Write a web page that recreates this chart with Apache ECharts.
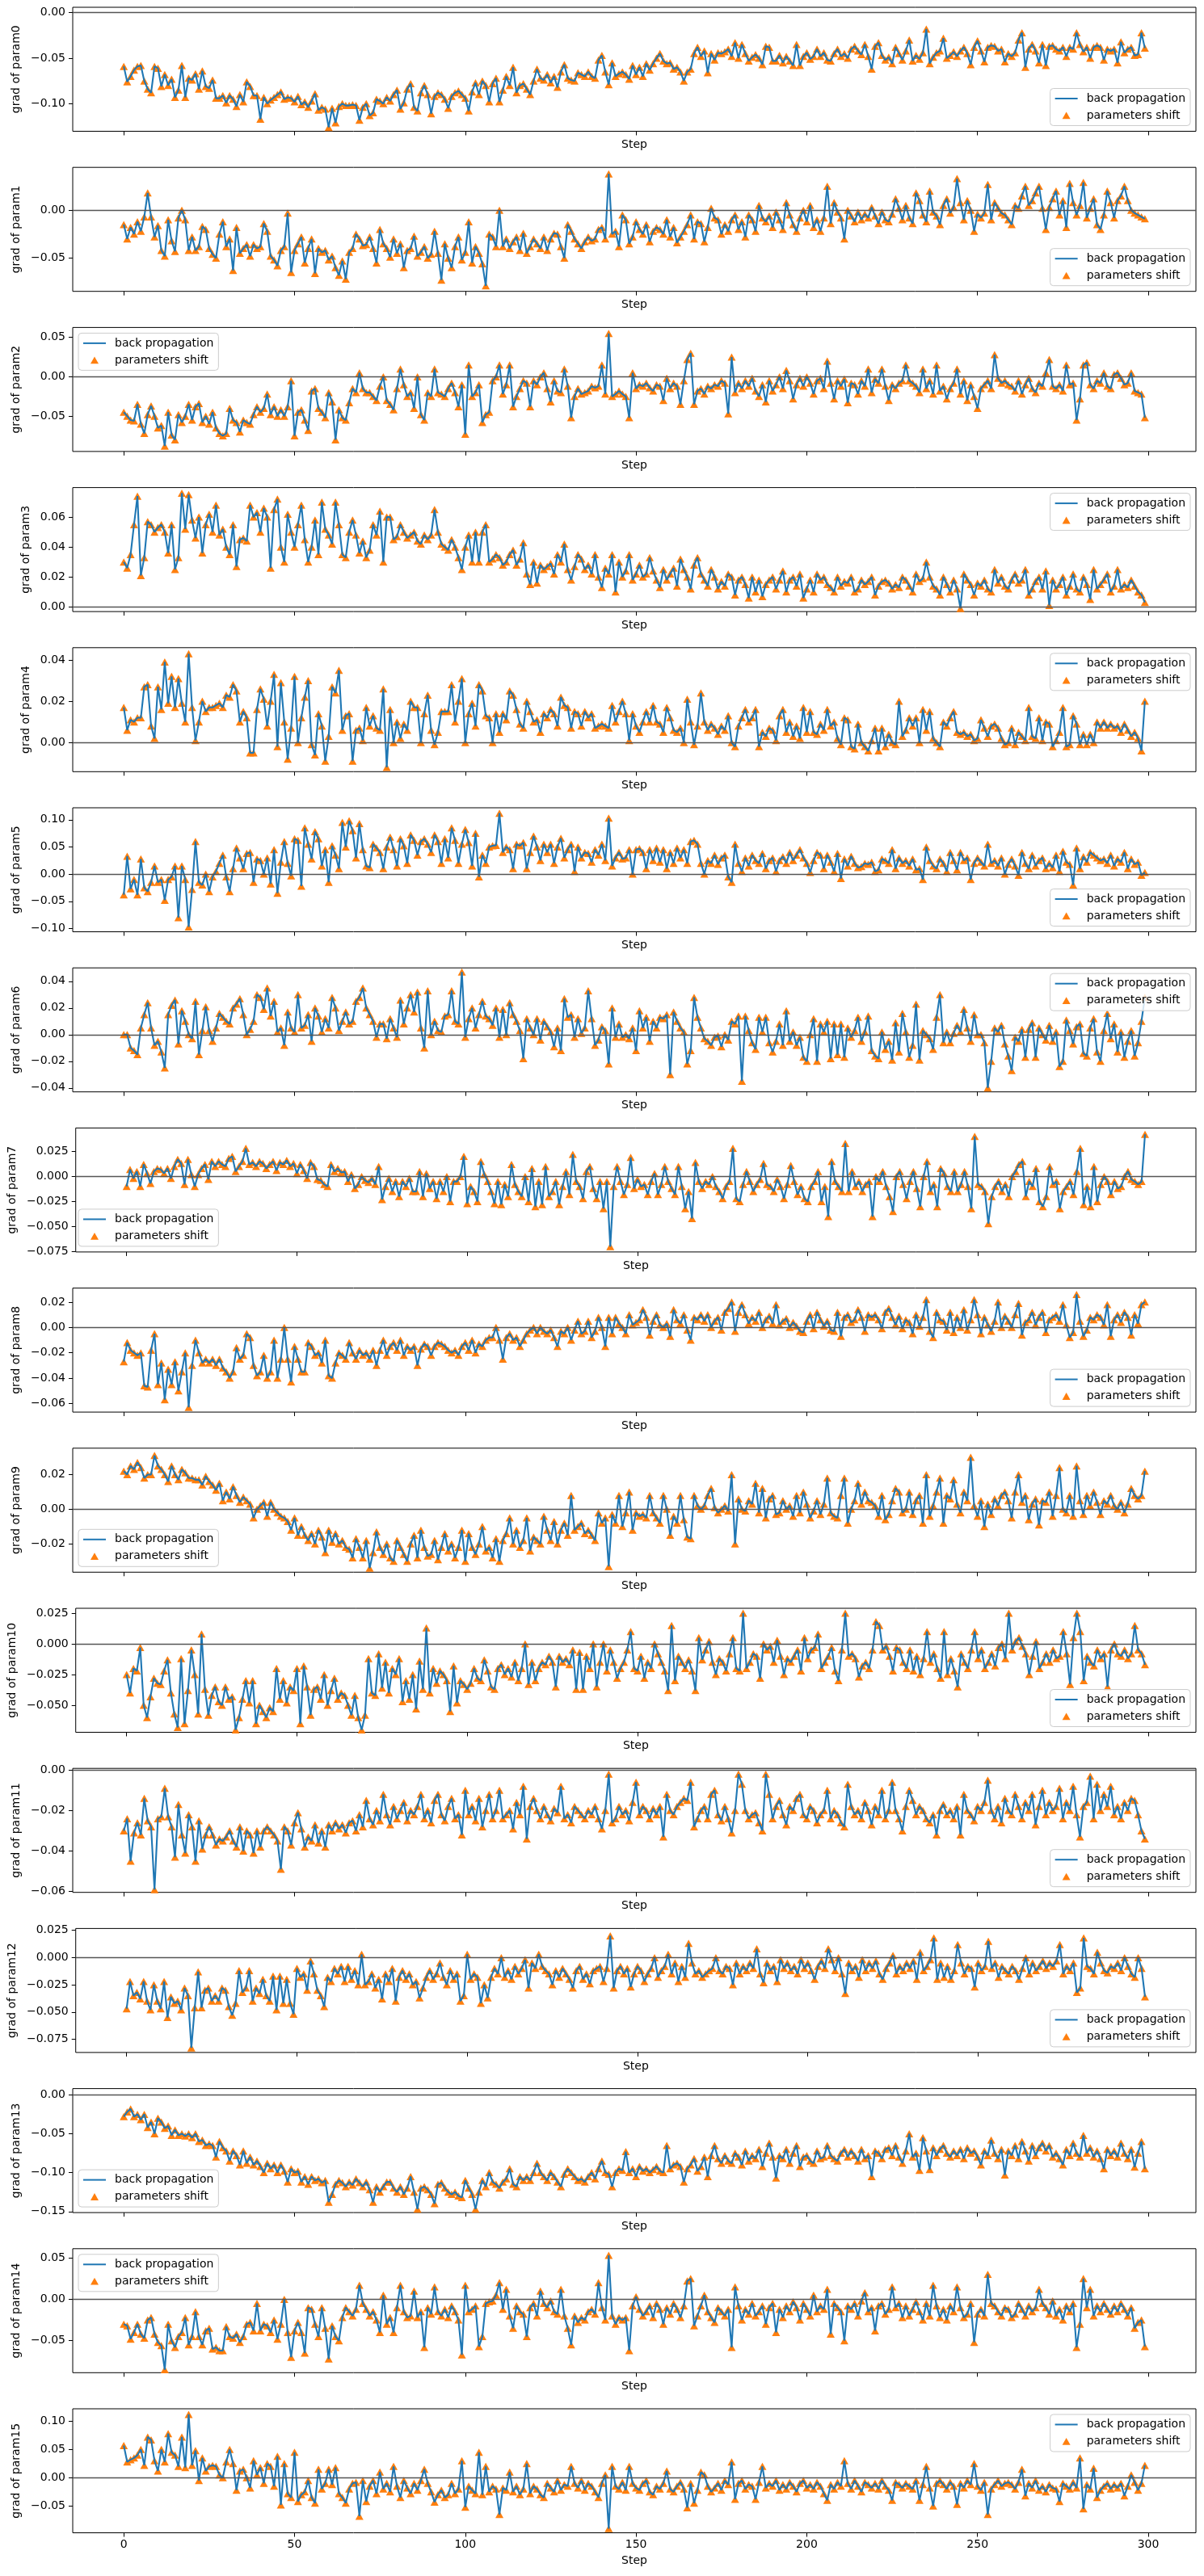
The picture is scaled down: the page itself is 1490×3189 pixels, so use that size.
<!DOCTYPE html>
<html><head><meta charset="utf-8">
<script src="https://cdn.jsdelivr.net/npm/echarts@6/dist/echarts.min.js"></script>
<style>html,body{margin:0;padding:0;background:#fff}#c{width:1490px;height:3189px}</style>
</head><body><div id="c"></div>
<script>
// Gradient of each parameter per step (steps 0..299), values in units of 1e-3.
const grad0 = [
-59,-76,-70,-63,-59,-58,-75,-84,-88,-59,-61,-81,-68,-80,-73,-93,-85,-58,-93,-72,
-74,-67,-84,-64,-81,-83,-74,-94,-94,-91,-99,-91,-95,-103,-90,-98,-76,-81,-91,-91,
-117,-93,-100,-96,-93,-90,-87,-95,-93,-94,-98,-92,-101,-98,-104,-97,-89,-107,-104,-106,
-126,-105,-121,-103,-100,-102,-102,-101,-102,-118,-104,-100,-113,-110,-95,-97,-100,-93,-97,-90,
-85,-106,-99,-84,-78,-104,-108,-88,-80,-90,-111,-92,-88,-90,-95,-105,-92,-88,-86,-90,
-94,-108,-87,-77,-90,-75,-80,-98,-78,-72,-98,-85,-70,-80,-60,-88,-80,-78,-84,-90,
-75,-62,-72,-74,-68,-77,-70,-82,-65,-57,-72,-74,-75,-66,-68,-70,-65,-70,-72,-52,
-47,-65,-79,-55,-70,-67,-65,-68,-73,-58,-68,-60,-70,-56,-63,-56,-50,-45,-53,-56,
-55,-62,-60,-65,-75,-65,-62,-45,-38,-48,-42,-66,-45,-52,-44,-45,-43,-40,-48,-33,
-50,-35,-45,-53,-49,-46,-50,-57,-37,-38,-53,-53,-47,-55,-48,-53,-58,-35,-58,-48,
-44,-51,-48,-40,-48,-44,-52,-53,-45,-40,-48,-45,-50,-40,-37,-42,-46,-35,-48,-62,
-37,-33,-47,-52,-49,-56,-38,-45,-52,-42,-30,-53,-47,-51,-44,-18,-56,-49,-44,-42,
-28,-50,-47,-43,-48,-42,-38,-45,-57,-38,-31,-42,-54,-38,-36,-37,-42,-40,-54,-45,
-48,-44,-30,-22,-60,-40,-35,-42,-55,-35,-58,-37,-36,-40,-42,-38,-48,-38,-40,-22,
-35,-43,-38,-50,-38,-36,-38,-52,-40,-42,-40,-55,-32,-44,-40,-38,-47,-46,-22,-39];
const grad1 = [
-15,-30,-18,-25,-12,-22,-7,18,-7,-28,-16,-42,-48,-10,-32,-43,-8,0,-10,-42,
-28,-42,-38,-17,-20,-40,-46,-50,-25,-12,-38,-30,-63,-18,-45,-40,-36,-48,-36,-40,
-38,-14,-22,-48,-52,-58,-42,-38,-3,-65,-42,-35,-28,-55,-40,-30,-66,-40,-44,-42,
-52,-48,-60,-68,-53,-72,-44,-40,-25,-30,-37,-36,-28,-40,-55,-20,-35,-40,-49,-30,
-45,-35,-60,-42,-40,-27,-48,-44,-38,-50,-46,-22,-45,-73,-35,-50,-60,-38,-28,-52,
-44,-12,-55,-38,-45,-56,-79,-25,-28,-38,0,-38,-30,-40,-33,-28,-42,-24,-45,-38,
-30,-35,-40,-28,-42,-30,-24,-25,-38,-50,-15,-22,-30,-35,-40,-33,-28,-32,-30,-20,
-18,-30,38,-25,-22,-38,-5,-10,-35,-28,-12,-20,-25,-15,-33,-22,-18,-20,-25,-10,
-28,-18,-34,-28,-22,-15,-5,-30,-12,-14,-33,-18,2,-8,-10,-25,-15,-22,-10,-5,
-20,-12,-28,-5,-10,-22,5,-8,-12,-6,-18,-2,-10,-20,8,-5,-15,-22,-8,0,
-12,5,-18,-10,-22,-8,25,-14,8,-2,-8,-30,0,-6,-12,-2,-10,-4,-8,3,
-6,-14,-2,-10,-12,-4,12,2,-10,5,-8,-14,18,10,-5,-12,20,-2,-6,-15,
5,12,-3,3,33,8,-10,10,0,-22,-4,-8,-3,27,-10,8,2,-3,-5,-10,
-15,5,2,15,25,5,10,18,25,2,-20,3,12,20,-5,10,-18,28,8,-5,
5,29,-8,2,12,-15,-20,-5,20,8,-8,10,15,25,10,0,-3,-5,-7,-9];
const grad2 = [
-45,-50,-55,-56,-35,-60,-72,-48,-37,-50,-65,-62,-88,-45,-74,-80,-48,-58,-50,-35,
-55,-38,-34,-58,-50,-60,-45,-65,-72,-75,-72,-40,-55,-58,-70,-55,-58,-60,-48,-38,
-45,-40,-22,-48,-38,-50,-42,-50,-38,-5,-75,-45,-42,-55,-68,-18,-15,-40,-45,-52,
-20,-32,-80,-42,-52,-55,-33,-15,-20,5,-15,-20,-20,-25,-30,-12,0,-30,-35,-42,
-15,10,-10,-25,-20,-40,0,-48,-55,-20,-25,10,-20,-22,-25,-15,-8,-20,-38,-10,
-73,15,-25,-20,-10,-58,-48,-45,-5,0,15,-22,-10,15,-38,-25,-15,-5,-8,-38,
-5,-10,0,5,-15,-32,-5,-18,-20,10,-12,-52,-25,-15,-22,-20,-18,-12,-14,-12,
15,-22,55,-25,-22,-18,-22,-25,-52,5,-15,-10,-12,-8,-14,-18,-10,-12,-30,-2,
-15,-8,-12,-35,-5,22,30,-35,-18,-15,-22,-12,-15,-10,-12,-5,-8,-47,25,-20,
-8,-15,-5,-12,-2,-18,-25,-10,-32,-5,-18,-10,0,-15,8,-5,-28,-10,-2,-12,
0,-8,-22,-5,-2,-15,20,-8,-28,-5,-12,-3,-33,-8,-10,-22,-5,-12,10,-20,
-3,-8,10,-12,-30,-10,-15,-8,-5,15,-5,-8,-12,-20,10,-15,-5,-22,15,-18,
-12,-28,-15,-8,10,-22,-5,-30,-10,-25,-40,-15,-10,-5,-15,28,-2,-8,-5,-10,
-12,-18,-5,-22,-10,-2,-15,-20,-8,-12,5,22,-12,-15,-10,-18,15,-10,-8,-55,
-28,15,18,-10,-15,-5,-8,5,-12,-15,3,5,-2,-10,-8,5,-18,-20,-22,-52];
const grad3 = [
30,26,35,55,74,21,33,57,55,50,53,55,50,36,55,25,33,76,52,75,
58,46,60,36,55,62,50,68,48,52,40,35,55,27,45,46,44,68,60,63,
50,66,60,26,65,72,40,30,62,50,40,55,68,45,30,40,58,35,70,52,
48,42,70,55,35,33,50,58,48,36,44,33,38,55,48,64,30,60,60,45,
47,55,50,46,48,50,44,42,48,45,48,65,50,42,40,38,45,40,33,25,
40,48,30,50,30,50,55,30,32,35,33,28,30,35,38,28,32,43,22,15,
30,16,28,25,27,29,22,35,30,42,25,18,27,35,32,25,28,22,35,20,
13,26,22,35,10,30,20,24,35,18,22,28,20,22,33,24,18,13,25,18,
22,26,14,32,25,20,12,28,33,22,18,14,25,20,12,17,14,22,20,8,
18,20,15,6,20,10,18,7,15,18,20,12,18,24,10,18,20,14,22,6,
12,18,10,22,18,20,15,13,10,20,14,17,16,20,10,12,18,15,17,20,
8,14,17,18,16,12,15,13,20,18,14,10,22,17,19,30,20,14,12,8,
20,15,10,18,12,-1,22,18,15,8,16,14,18,12,10,25,16,20,14,12,
18,22,16,18,25,8,12,17,20,12,24,1,18,12,15,20,8,14,22,12,
10,20,15,5,25,12,15,18,22,10,14,25,12,15,13,18,14,10,8,3];
const grad4 = [
17,6,11,10,12,12,27,28,8,2,27,16,39,19,32,17,31,19,10,43,
17,1,10,20,15,17,17,18,19,17,23,22,28,25,10,15,12,-5,-5,16,
26,21,8,20,33,-2,29,10,-8,7,32,0,12,22,30,-1,-6,14,8,-9,
3,27,24,35,6,13,14,-9,6,7,1,17,8,13,7,6,26,-12,16,0,
10,2,9,6,20,17,17,0,14,23,6,-1,5,15,15,15,28,10,20,31,
0,14,19,8,28,25,13,12,0,14,5,14,11,25,23,16,9,7,20,15,
10,11,5,14,12,16,14,8,22,18,17,7,15,14,8,15,12,14,7,8,
9,8,7,18,10,15,20,14,1,14,8,5,10,15,10,18,10,9,5,17,
12,6,5,7,0,21,10,-1,8,24,10,6,9,7,4,8,6,13,0,-2,
8,12,16,10,12,16,-2,5,3,7,6,1,13,16,5,10,3,8,2,17,
5,15,5,4,9,6,16,8,10,2,-1,12,11,-2,-3,9,0,-2,-4,1,
7,-4,7,-2,4,0,-1,20,3,6,12,8,12,0,16,6,15,2,0,-2,
10,8,12,15,5,4,5,3,4,1,2,11,7,3,8,9,7,2,-1,0,
7,-1,5,3,1,17,3,2,12,1,10,9,-2,1,5,17,-2,-1,13,9,
-1,4,-1,4,0,10,7,10,7,9,7,8,5,9,6,3,5,2,-4,20];
const grad5 = [
-38,33,-27,-10,-38,28,-25,-32,-15,15,-15,-10,-48,-10,-5,15,-80,15,-10,-97,
-28,60,-15,-20,0,-32,-5,5,20,35,-5,-32,10,48,30,10,38,40,-15,28,
25,0,30,-18,45,-35,22,60,20,-3,65,62,-22,85,55,28,78,65,15,45,
-15,52,35,10,95,50,98,80,30,93,45,15,12,55,48,40,10,50,68,45,
15,65,52,20,72,62,35,60,65,55,40,72,60,20,65,30,85,62,20,55,
82,58,15,75,-5,35,20,50,52,53,112,40,50,45,10,55,52,58,10,40,
70,50,25,55,40,55,20,50,66,30,45,55,5,50,30,40,38,22,45,35,
55,25,103,15,30,40,28,30,45,0,45,47,40,10,45,25,48,22,45,10,
40,20,48,30,45,20,60,62,55,20,0,25,20,35,18,30,35,-5,-15,55,
20,5,30,15,35,25,20,38,10,25,30,5,25,32,20,40,25,35,45,30,
20,3,25,40,35,10,35,22,5,38,-8,28,15,33,20,12,14,20,18,22,
5,8,28,25,20,45,10,30,20,25,15,28,8,10,-10,50,25,15,10,28,
20,5,40,25,8,40,25,30,-10,20,30,22,15,55,20,25,15,30,0,18,
28,15,-2,40,20,10,35,15,25,30,10,20,12,35,5,42,22,18,-20,48,
10,32,22,40,35,30,25,28,20,35,15,28,22,40,10,28,18,22,-2,3];
const grad6 = [
0,0,-10,-12,-15,5,15,24,5,-8,-5,-13,-25,15,22,26,-7,18,10,0,
-3,25,-15,3,21,3,-5,5,16,13,10,8,20,23,27,15,0,4,10,30,
28,19,35,14,25,2,5,-8,17,5,2,30,5,7,15,-5,20,14,2,12,
5,28,20,3,10,17,8,10,25,28,35,20,15,10,-2,8,8,-3,12,5,
-2,26,8,20,30,17,32,5,-10,33,0,10,3,2,14,15,33,10,8,47,
-2,12,20,5,15,25,14,12,7,20,-2,19,0,24,15,10,3,-18,12,5,
0,12,-4,10,6,2,-9,5,-12,27,13,15,-2,12,1,5,33,12,-8,-4,
6,3,-22,20,-2,8,-2,0,-3,5,-12,18,5,13,-5,10,5,13,12,15,
-30,17,10,5,2,-22,-12,28,13,5,-3,-5,-8,-2,-1,-9,0,-4,10,8,
14,-35,14,3,-6,-11,13,2,13,-6,-13,-5,8,-8,18,-5,2,-8,-2,-17,
-20,0,12,-20,8,2,10,-18,8,-15,8,-17,5,-2,3,13,-5,2,14,-12,
-16,-18,2,-11,-5,-19,9,-13,16,2,-17,-8,23,-19,3,0,-3,-11,13,30,
-6,2,-6,1,7,2,19,5,-5,15,0,0,-6,-40,-20,5,2,7,-7,-16,
-27,-2,-5,4,-17,4,9,-17,5,0,-4,7,-5,2,-24,-20,11,3,-7,6,
8,-14,-16,5,12,-13,-20,3,16,-3,8,-13,2,-17,-5,3,-16,-6,10,28];
const grad7 = [
-10,7,-2,5,-10,12,3,-7,5,8,7,3,8,-2,10,17,13,-8,17,2,
-10,2,8,12,-3,15,10,15,12,10,18,20,5,10,15,28,12,14,10,15,
13,8,12,15,6,14,12,16,10,13,3,12,6,-2,14,10,-3,-4,-8,-10,
12,5,8,4,5,-5,2,-12,-8,0,-4,-6,-2,-8,10,-23,-10,-2,-15,-5,
-20,-5,-10,-2,-15,-15,5,-20,3,-12,-5,-22,-5,-15,0,-25,-5,-5,0,20,
-27,-10,-15,-25,15,2,-5,-15,-27,-5,-28,-8,-20,12,-8,-15,-20,0,-25,8,
-30,-5,-28,10,-20,-15,-5,-28,-10,5,-18,22,-5,-10,-22,5,10,-12,-22,-5,
-32,-5,-70,-10,10,-5,-18,-8,19,-12,-3,-10,-8,-18,-5,3,-18,-8,10,-5,
-12,-18,10,-10,-32,-15,-42,14,-5,-12,-5,-8,0,-10,-15,-22,-10,-5,28,-22,
-25,-8,5,-5,-15,-8,-3,13,-8,-10,-15,-3,-10,-22,-8,11,-5,-18,-10,-22,
-25,-10,-5,5,-25,-10,-40,15,-5,-10,-15,33,-15,5,-10,-5,-15,-8,-5,-40,
0,-5,5,-10,-20,-35,0,5,-8,-22,-5,5,-12,-30,0,15,-15,-8,-30,8,
3,-10,-15,5,-15,-8,5,-10,-32,40,-8,-10,-15,-47,-20,-10,-5,-15,-8,-20,
0,5,12,15,-20,-5,-10,8,-25,-30,-20,10,-8,-5,-32,-15,-10,-5,-18,5,
28,-28,-10,-30,10,-25,-8,0,-5,-18,-5,-12,-10,0,5,-3,-5,-8,-5,42];
const grad8 = [
-27,-12,-18,-20,-22,-20,-46,-47,-18,-5,-45,-28,-57,-33,-45,-27,-50,-35,-20,-63,
-30,-10,-20,-28,-25,-28,-25,-30,-25,-32,-35,-40,-35,-16,-25,-22,-5,-8,-30,-38,
-35,-22,-40,-35,-10,-40,-25,0,-25,-43,-15,-25,-35,-35,-12,-15,-22,-20,-28,-10,
-38,-40,-28,-20,-22,-25,-12,-20,-25,-18,-22,-20,-25,-18,-30,-18,-10,-22,-15,-12,
-18,-10,-22,-15,-18,-15,-30,-17,-13,-15,-22,-15,-12,-13,-15,-18,-20,-18,-22,-15,
-12,-18,-10,-20,-13,-15,-10,-8,-8,0,-10,-25,-8,-5,-10,-8,-15,-10,-5,-2,
0,-5,0,-3,-5,-2,-8,-15,-3,-5,0,-10,-2,5,-5,-3,5,-8,-3,8,
0,-15,8,-5,8,3,0,-5,10,2,4,6,14,8,-6,5,10,2,0,3,
-7,14,6,3,10,-2,-10,8,6,10,5,10,0,5,8,-2,12,15,20,-3,
12,18,10,3,8,5,12,0,6,9,3,18,2,5,7,0,4,1,-3,-4,
5,10,-1,12,6,1,5,-2,-3,12,-7,8,10,4,6,14,8,-3,10,8,
10,6,-1,12,15,8,2,9,-1,6,4,-5,10,1,8,22,-3,-8,12,6,
5,-2,12,-4,8,0,14,-2,6,22,10,-5,8,2,-3,5,20,0,9,5,
0,10,19,-6,4,6,12,2,8,12,-4,6,8,10,5,18,2,-8,-4,26,
5,-7,-2,8,6,10,8,2,18,-7,6,10,4,12,8,-6,10,3,18,20];
const grad9 = [
22,20,25,23,27,24,18,20,20,31,25,23,20,16,25,20,17,23,21,18,
18,17,17,14,19,16,14,11,15,5,10,6,13,8,4,7,5,3,-5,0,
2,4,-4,4,0,-2,-4,-5,-7,-12,-5,-15,-10,-15,-18,-14,-20,-12,-16,-25,
-12,-19,-14,-20,-18,-22,-23,-28,-17,-22,-28,-18,-34,-25,-13,-22,-26,-20,-28,-30,
-18,-22,-26,-30,-20,-15,-28,-12,-22,-27,-26,-18,-29,-22,-14,-24,-20,-28,-22,-12,
-30,-14,-22,-26,-20,-10,-24,-22,-28,-17,-30,-18,-14,-5,-20,-12,-22,-18,-5,-24,
-16,-18,-20,-4,-12,-18,-7,-20,-12,-8,-15,8,-12,-10,-8,-14,-12,-15,-18,-2,
-8,-5,-33,-3,-8,8,-10,-2,10,-12,-2,-4,-3,-5,8,-2,-5,-8,8,0,
-15,-4,-8,8,-6,-16,-17,8,2,0,2,8,12,1,-2,0,2,-1,20,-20,
6,0,-1,5,3,15,-2,12,-5,6,8,-3,-2,5,0,2,-4,8,-2,10,
3,-5,-1,5,-3,3,18,-2,-4,-5,8,18,-8,0,5,15,3,10,5,4,
2,-4,8,-6,-3,5,12,10,-2,0,10,-3,5,8,-8,20,-4,2,10,18,
-8,8,6,17,3,-2,10,5,30,2,-4,5,-10,3,-3,6,2,8,10,5,
-5,10,20,4,8,-6,3,6,-9,5,4,10,-4,8,24,0,-2,8,-4,25,
5,-3,8,2,10,4,-3,5,3,8,2,0,4,-2,3,12,8,6,8,22];
const grad10 = [
-25,-40,-20,-22,-3,-50,-60,-43,-28,-32,-33,-22,-13,-40,-57,-68,-12,-65,-38,-5,
-25,-57,8,-37,-58,-42,-35,-47,-50,-35,-45,-43,-70,-60,-45,-30,-48,-30,-65,-50,
-55,-60,-52,-55,-20,-45,-30,-48,-35,-38,-20,-65,-18,-35,-58,-37,-35,-45,-25,-50,
-38,-28,-45,-40,-42,-50,-58,-42,-60,-70,-58,-12,-40,-42,-8,-36,-15,-40,-20,-25,
-12,-47,-30,-45,-25,-53,-14,-37,13,-40,-20,-32,-22,-25,-30,-55,-18,-48,-30,-33,
-37,-32,-20,-28,-30,-13,-22,-35,-37,-20,-17,-25,-20,-27,-15,-30,-20,0,-33,-15,
-30,-20,-15,-17,-10,-15,-35,-10,-15,-12,-17,-5,-37,-7,-37,-10,-20,0,-35,-15,
0,-22,-5,-15,-28,-20,-15,-5,10,-20,-22,-10,-28,-15,-20,0,-8,-15,-22,-38,
15,-30,-10,-15,-20,-13,-22,-38,5,-13,-5,2,-15,-25,-12,-15,-22,-8,5,-20,
-22,25,-20,-15,-8,-10,-28,0,-5,-2,-15,3,-10,-25,-12,-15,-10,-5,-22,5,
-12,-5,-3,8,-20,-15,-10,-3,-22,-30,-5,25,-10,-8,-12,-27,-18,-15,-20,-5,
18,15,-5,-2,-10,-22,-3,-5,-15,-20,-5,-22,-10,-25,-12,10,-15,-8,-20,-28,
10,-25,-12,-22,-35,-8,-15,-20,-5,10,-12,-5,-20,-15,-8,-18,-3,0,-12,25,
-5,2,5,-2,-8,-25,-10,2,-20,-15,-8,-15,-5,-12,-10,10,-8,-33,5,25,
10,-30,-10,-15,-18,-5,-12,-8,-35,-5,0,-8,-10,-5,-12,-8,15,-5,-8,-17];
const grad11 = [
-30,-24,-45,-31,-26,-32,-14,-25,-28,-59,-24,-23,-9,-23,-28,-43,-17,-32,-41,-22,
-28,-45,-25,-39,-32,-28,-32,-37,-34,-35,-33,-30,-35,-38,-28,-40,-30,-32,-41,-30,
-38,-30,-28,-30,-32,-35,-49,-28,-30,-37,-26,-21,-29,-38,-33,-35,-27,-36,-30,-38,
-27,-30,-26,-29,-27,-31,-26,-25,-30,-22,-28,-15,-24,-27,-20,-25,-12,-22,-27,-18,
-24,-20,-16,-25,-20,-22,-18,-12,-24,-20,-26,-15,-12,-22,-25,-18,-14,-24,-22,-32,
-10,-22,-18,-25,-14,-28,-20,-12,-24,-20,-10,-24,-22,-20,-29,-16,-22,-8,-34,-18,
-14,-20,-24,-18,-22,-25,-19,-21,-8,-24,-22,-26,-18,-20,-22,-24,-20,-22,-18,-24,
-29,-20,-2,-26,-24,-18,-22,-20,-25,-16,-6,-22,-18,-20,-24,-19,-22,-18,-33,-12,
-20,-22,-18,-16,-14,-15,-6,-28,-24,-20,-18,-24,-12,-10,-22,-25,-18,-24,-31,-20,
-2,-7,-20,-24,-22,-21,-26,-30,-2,-12,-24,-18,-15,-22,-27,-18,-20,-14,-12,-22,
-24,-18,-20,-26,-22,-20,-10,-24,-20,-22,-26,-28,-7,-18,-22,-20,-24,-16,-20,-27,
-18,-22,-10,-24,-20,-6,-20,-24,-30,-18,-10,-15,-22,-18,-20,-24,-26,-22,-32,-20,
-17,-22,-20,-24,-18,-32,-12,-20,-22,-25,-18,-20,-16,-5,-20,-24,-18,-26,-14,-20,
-22,-12,-18,-24,-16,-20,-12,-27,-18,-10,-22,-16,-20,-18,-9,-24,-16,-20,-8,-22,
-33,-18,-16,-3,-24,-7,-20,-12,-18,-8,-22,-18,-24,-16,-20,-14,-15,-22,-30,-34];
const grad12 = [
-47,-22,-35,-32,-38,-22,-40,-48,-25,-40,-47,-22,-55,-36,-42,-40,-48,-28,-35,-83,
-46,-13,-46,-30,-28,-40,-35,-40,-28,-30,-45,-53,-42,-12,-32,-28,-12,-40,-28,-33,
-20,-35,-40,-17,-48,-17,-42,-20,-42,-52,-10,-18,-15,-30,-3,-15,-30,-35,-45,-18,
-22,-10,-15,-8,-22,-8,-20,-12,-25,3,-25,-22,-15,-28,-20,-38,-15,-22,-10,-40,
-18,-12,-20,-15,-25,-22,-37,-28,-18,-12,-20,-15,-5,-18,-25,-12,-20,-15,-40,-35,
3,-20,-15,-18,-42,-25,-37,-18,-10,-15,0,-18,-12,-20,-8,-15,-10,-2,-28,-5,
-10,3,-8,-12,-15,-25,-12,-18,-10,-15,-20,-28,-12,-8,-20,-15,-24,-12,-10,-8,
-22,-10,20,-28,-12,-8,-15,-10,-27,-15,-8,-12,-22,-15,-10,0,-18,-12,-8,3,
-15,-5,-22,-8,-18,13,-5,-15,-12,-18,-15,-12,-10,0,-12,-15,-8,-10,-25,-5,
-15,-8,-12,-5,-10,8,-15,-23,-5,-12,-8,-22,-2,-10,-5,-12,-8,-15,-2,-10,
-5,-12,-20,-8,-3,-10,8,-2,-12,0,-15,-33,-5,-12,-8,-18,-2,-12,-5,-10,
-3,-15,-20,-10,-5,2,-15,-8,-12,-5,-10,-3,-20,5,-12,-8,-2,18,-20,-5,
-18,-8,-20,-12,12,-5,-15,-8,-10,-27,-5,-12,-8,15,-10,-5,-18,-8,-12,-15,
-8,-12,-20,-10,0,-15,-5,-12,-8,-3,-10,-5,-8,-3,12,-15,-8,-12,-5,-32,
-28,18,-8,-10,-15,5,-5,-12,-14,-8,-10,-5,-12,0,-8,-15,-18,0,-10,-36];
const grad13 = [
-28,-22,-18,-28,-25,-32,-25,-42,-35,-50,-30,-35,-43,-40,-52,-45,-52,-50,-53,-50,
-55,-50,-60,-58,-65,-63,-65,-80,-60,-68,-72,-85,-72,-78,-90,-72,-88,-80,-90,-85,
-92,-100,-88,-95,-90,-100,-90,-98,-112,-95,-100,-98,-112,-105,-115,-105,-110,-108,-113,-110,
-138,-128,-115,-110,-113,-118,-112,-116,-108,-113,-118,-112,-122,-138,-118,-125,-118,-112,-112,-120,
-125,-118,-128,-120,-105,-125,-147,-120,-118,-122,-128,-140,-115,-113,-120,-125,-128,-125,-130,-132,
-110,-120,-128,-147,-125,-110,-118,-100,-112,-115,-120,-112,-108,-95,-115,-118,-105,-110,-105,-110,
-100,-88,-100,-105,-110,-100,-105,-112,-118,-102,-95,-100,-105,-110,-108,-112,-105,-100,-108,-95,
-85,-100,-102,-118,-100,-95,-97,-73,-100,-95,-105,-92,-98,-95,-100,-96,-92,-98,-100,-65,
-95,-90,-88,-92,-112,-95,-90,-82,-98,-92,-80,-105,-78,-65,-82,-88,-78,-85,-88,-75,
-80,-90,-72,-85,-78,-82,-70,-92,-75,-62,-80,-107,-78,-82,-70,-88,-75,-65,-92,-80,
-78,-85,-88,-72,-82,-80,-65,-78,-82,-85,-75,-70,-80,-72,-78,-85,-70,-82,-78,-105,
-72,-75,-82,-70,-68,-78,-65,-80,-88,-72,-50,-80,-75,-97,-55,-72,-96,-68,-78,-70,
-65,-75,-80,-72,-78,-70,-82,-68,-75,-72,-80,-90,-72,-78,-58,-75,-82,-70,-103,-72,
-78,-65,-82,-60,-72,-85,-65,-78,-68,-62,-72,-65,-80,-75,-82,-90,-70,-78,-62,-75,
-80,-52,-75,-68,-80,-72,-82,-95,-70,-78,-72,-80,-62,-75,-82,-70,-93,-75,-60,-95];
const grad14 = [
-30,-32,-48,-40,-30,-42,-47,-25,-22,-42,-52,-56,-85,-30,-50,-58,-45,-40,-22,-55,
-45,-15,-45,-55,-38,-35,-60,-58,-62,-62,-33,-45,-47,-42,-52,-45,-30,-28,-38,-5,
-38,-30,-32,-40,-25,-48,-30,0,-40,-70,-38,-28,-40,-65,-10,-12,-30,-45,-10,-35,
-72,-32,-45,-50,-22,-10,-15,-20,-12,17,-5,-12,-20,-15,-25,-40,5,-30,-22,-40,
-10,17,-15,-22,-20,10,-22,-15,-58,-10,-18,15,-15,-20,-12,-22,-8,-15,-25,-67,
17,-15,-12,-8,-57,-45,-5,-3,-2,5,20,-12,12,-20,-35,-8,-15,-18,-45,-10,
-5,-20,10,-5,-10,-2,-15,-18,12,-20,-35,-55,-20,-28,-22,-25,-15,-12,-18,20,
-10,-25,53,-20,-30,-22,-25,-22,-62,-8,3,-12,-20,-15,-8,-22,-5,-12,-30,-10,
-18,-5,-12,-22,-8,22,25,-32,-20,-8,5,-15,-22,-28,-10,-15,-20,-12,-58,15,
-8,-25,-12,-18,-5,-20,-15,-8,-30,-10,-5,-40,-12,-22,-8,-15,-3,-10,-25,-5,
-12,-20,5,-15,-8,-12,12,-42,-5,-10,-15,-50,-8,-12,-5,-20,-2,8,-15,-10,
-38,-8,-5,-18,-12,15,-10,-5,-22,-8,-20,-12,-3,-15,-25,-5,-20,17,-8,-22,
-12,-25,-8,-15,15,-10,-22,-18,-5,-52,-18,-12,-20,30,-5,-8,-15,-20,-10,-12,
-22,-18,-5,-12,-20,-8,-15,-10,12,-5,-10,-18,-2,-20,-12,-25,-8,-15,-5,-58,
-30,25,-10,12,-20,-8,-15,-5,-12,-18,-8,-15,-5,-12,-20,-10,-35,-28,-25,-57];
const grad15 = [
57,28,32,35,40,50,22,72,67,30,12,50,28,78,45,40,20,72,18,112,
22,48,-5,35,12,20,22,20,5,0,28,50,25,-22,12,15,0,-18,30,5,
18,-10,25,20,-15,38,-48,25,-28,-35,45,-42,-30,-25,-5,-35,-45,15,-20,-10,
15,-12,18,-28,-35,-45,-20,-10,-8,-68,-5,-42,-15,-5,-28,10,-20,-10,-25,20,
-15,-35,-5,-18,-28,-10,-22,-5,15,-10,-25,-43,-30,-22,-35,-30,-10,-28,-20,30,
-52,-15,-22,-28,45,-30,20,-25,-15,-20,-65,-18,-22,10,-25,-15,-30,-20,25,-28,
-15,-20,-30,-35,-10,-18,-25,-5,-22,-12,-15,20,-10,-18,-5,-22,-10,-15,-25,-35,
-10,5,-90,20,-15,-20,-8,-22,20,-10,-18,-22,-10,-5,-25,-30,-15,-20,-10,12,
-20,-25,-15,-8,-20,-53,-10,-45,-22,10,5,-15,-25,-18,-10,-22,-5,-12,28,-38,
-10,-5,-20,-12,-15,-38,-8,20,-18,-10,-15,-5,-22,-12,-20,-8,-15,-25,-10,-5,
-18,-12,-20,-8,-15,-28,-40,-12,-20,-8,-15,30,-10,-20,-5,-15,-25,-8,-12,-18,
-10,-20,-5,-15,-22,-40,-8,-12,-18,-10,-15,-20,-5,-40,-12,20,-18,-50,-10,-5,
-12,-20,-8,-15,-47,-10,-18,-5,-12,25,-15,-22,-8,-65,-20,-12,-5,-15,-10,-8,
-12,-20,-8,15,-32,-10,-18,-5,-22,-15,-25,-12,-18,-20,-42,-10,-15,-20,-8,-18,
35,-55,-12,-20,17,-35,-22,-15,-10,-20,-12,-18,-10,-32,-15,5,-8,-22,-10,22];

const grads = [grad0,grad1,grad2,grad3,grad4,grad5,grad6,grad7,grad8,grad9,grad10,grad11,grad12,grad13,grad14,grad15];
// y-axis limits (units of 1e-3), tick spacing (1e-3) and label decimals per subplot
const yLimits = [[-130.3,5.9],[-84.8,44.7],[-94.9,62.6],[-3.1,79.7],[-14.1,45.9],[-106,121.9],[-43,50.1],[-75.3,48.3],
                 [-66.8,31],[-36.3,35.2],[-72,28.9],[-60.4,0.8],[-87.2,26.7],[-151.4,8],[-88.6,61],[-97.4,121.9]];
const yTickStep = [50,50,50,20,20,50,20,25,20,20,25,20,25,50,50,50];
const yDecimals = [2,2,2,2,2,2,2,3,2,2,3,2,3,2,2,2];
const xTicks = [0,50,100,150,200,250,300];
const legendLoc = ['lr','lr','ul','ur','ur','lr','ur','ll','lr','ll','lr','lr','lr','ll','ul','ur'];
const seriesNames = ['back propagation','parameters shift'];

const FONT = 'DejaVu Sans';
const LEFT = 90, RIGHT_EDGE = 1480, TOP0 = 9, PITCH = 198.2, H = 153.5, W = RIGHT_EDGE - LEFT;
const LEG_H = 46;
const LINE_ICON = 'path://M0,0M34,9M0,3.5L28,3.5L28,5.5L0,5.5Z';
const TRI_ICON = 'path://M0,0M34,9M9,8.8L14,0L19,8.8Z';

const mctx = document.createElement('canvas').getContext('2d');
mctx.font = '14px "DejaVu Sans"';
function fmt(v, dp) {
  const s = Math.abs(v).toFixed(dp);
  return (v < 0 && parseFloat(s) !== 0 ? '\u2212' : '') + s;
}

const grids = [], xAxes = [], yAxes = [], series = [], legends = [];
grads.forEach((g, i) => {
  const top = TOP0 + PITCH * i;
  const last = i === grads.length - 1;
  grids.push({left: LEFT, top: top, width: W, height: H, show: true, borderColor: '#000', borderWidth: 1, backgroundColor: 'transparent'});
  xAxes.push({
    gridIndex: i, type: 'value', min: -14.95, max: 313.95,
    axisLine: {show: false, onZero: false},
    axisTick: {show: true, length: 5, lineStyle: {color: '#000', width: 1}, customValues: xTicks},
    axisLabel: {show: last, customValues: xTicks, color: '#000', fontFamily: FONT, fontSize: 14, margin: 8},
    splitLine: {show: false},
    name: 'Step', nameLocation: 'middle', nameGap: last ? 28 : 10,
    nameTextStyle: {color: '#000', fontFamily: FONT, fontSize: 14}
  });
  const st = yTickStep[i], dp = yDecimals[i];
  const ticks = [];
  for (let k = Math.ceil(yLimits[i][0] / st); k * st <= yLimits[i][1]; k++) ticks.push(k * st / 1000);
  let maxW = 0;
  ticks.forEach(t => { maxW = Math.max(maxW, mctx.measureText(fmt(t, dp)).width); });
  yAxes.push({
    gridIndex: i, type: 'value', min: yLimits[i][0] / 1000, max: yLimits[i][1] / 1000,
    axisLine: {show: false, onZero: false},
    axisTick: {show: true, length: 5, lineStyle: {color: '#000', width: 1}, customValues: ticks},
    axisLabel: {customValues: ticks, color: '#000', fontFamily: FONT, fontSize: 14, margin: 9,
                formatter: (v) => fmt(v, dp)},
    splitLine: {show: false},
    name: 'grad of param' + i, nameLocation: 'middle', nameRotate: 90, nameGap: 9 + maxW + 6,
    nameTextStyle: {color: '#000', fontFamily: FONT, fontSize: 14}
  });
  const pts = g.map((v, k) => [k, v / 1000]);
  series.push({
    type: 'scatter', name: seriesNames[1], xAxisIndex: i, yAxisIndex: i, data: pts,
    symbol: 'triangle', symbolSize: [10, 9], itemStyle: {color: '#ff7f0e', opacity: 1},
    silent: true, animation: false, z: 2
  });
  series.push({
    type: 'line', name: seriesNames[0], xAxisIndex: i, yAxisIndex: i, data: pts,
    symbol: 'none', lineStyle: {color: '#1f77b4', width: 2.1}, itemStyle: {color: '#1f77b4'},
    silent: true, animation: false, z: 3,
    markLine: {silent: true, symbol: 'none', animation: false, label: {show: false},
               lineStyle: {color: '#555555', width: 1.3, type: 'solid'}, data: [{yAxis: 0}]}
  });
  const loc = legendLoc[i];
  const pos = {};
  if (loc[1] === 'r') pos.right = 1490 - 1473; else pos.left = LEFT + 7;
  if (loc[0] === 'u') pos.top = top + 7; else pos.top = top + H - 7 - LEG_H;
  legends.push(Object.assign({
    orient: 'vertical', itemWidth: 34, itemHeight: 9, itemGap: 4, padding: [4, 6, 4, 6],
    backgroundColor: 'rgba(255,255,255,0.8)', borderColor: '#cccccc', borderWidth: 1, borderRadius: 4,
    selectedMode: false,
    textStyle: {fontFamily: FONT, fontSize: 14, color: '#000', lineHeight: 17},
    data: [
      {name: seriesNames[0], icon: LINE_ICON, itemStyle: {color: '#1f77b4', borderWidth: 0}},
      {name: seriesNames[1], icon: TRI_ICON, itemStyle: {color: '#ff7f0e', borderWidth: 0}}
    ]
  }, pos));
});

const chart = echarts.init(document.getElementById('c'), null, {renderer: 'canvas', width: 1490, height: 3189});
chart.setOption({
  animation: false,
  backgroundColor: '#ffffff',
  grid: grids, xAxis: xAxes, yAxis: yAxes, legend: legends, series: series
});
</script>
</body></html>
